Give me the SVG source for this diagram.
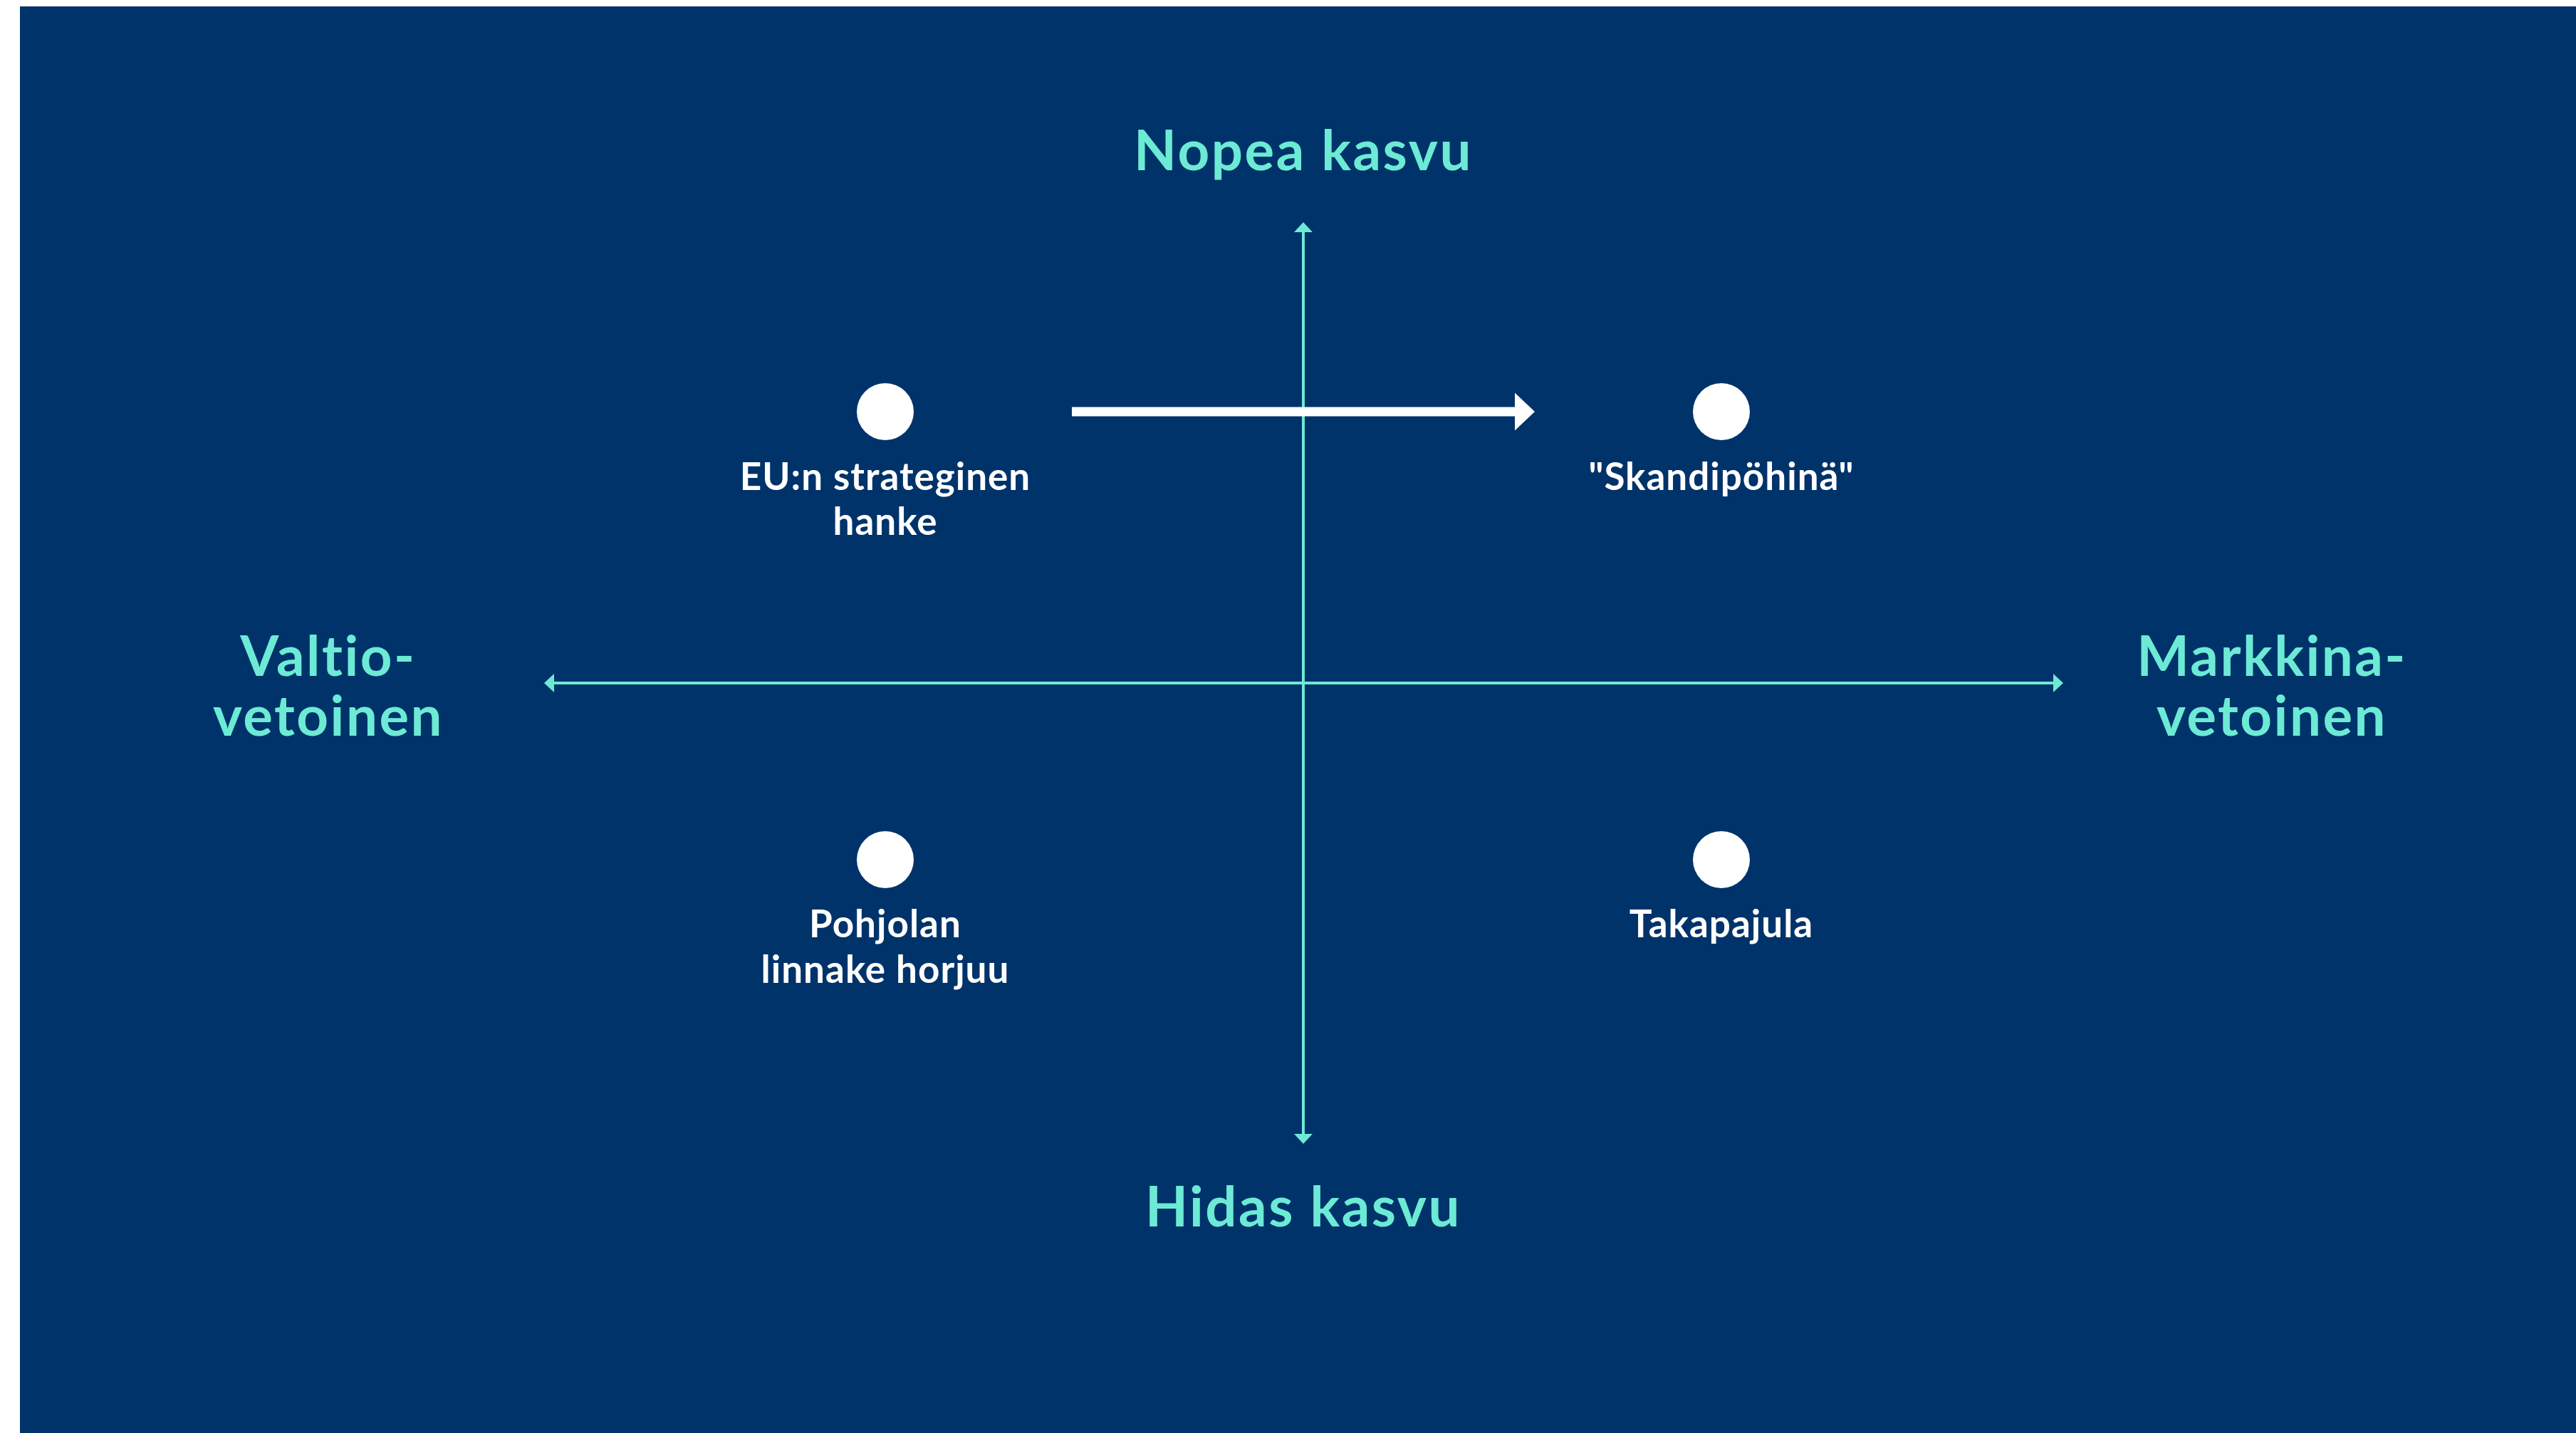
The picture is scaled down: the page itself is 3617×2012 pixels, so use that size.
<svg xmlns="http://www.w3.org/2000/svg" width="3617" height="2012" viewBox="0 0 3617 2012">
  <style>
    .axis { stroke: #6CEAD5; stroke-width: 4; fill: none; }
    .move { stroke: #FFFFFF; stroke-width: 13; fill: none; }
    .dot { fill: #FFFFFF; }
    text { font-family: "Lato", "Liberation Sans", sans-serif; text-anchor: middle; font-variant-ligatures: none; }
    .pole { fill: #6CEAD5; font-weight: 700; font-size: 78px; letter-spacing: 2.5px; }
    .label { fill: #FFFFFF; font-weight: 700; font-size: 53px; letter-spacing: 1px; }
  </style>
  <defs>
    <marker id="tealHead" viewBox="0 0 14 26" refX="0" refY="13" markerWidth="14" markerHeight="26" markerUnits="userSpaceOnUse" orient="auto-start-reverse">
      <path d="M0,0 L14,13 L0,26 Z" fill="#6CEAD5"/>
    </marker>
    <marker id="whiteHead" viewBox="0 0 28 53" refX="0" refY="26.5" markerWidth="28" markerHeight="53" markerUnits="userSpaceOnUse" orient="auto">
      <path d="M0,0 L28,26.5 L0,53 Z" fill="#FFFFFF"/>
    </marker>
  </defs>

  <!-- page and panel -->
  <rect x="0" y="0" width="3617" height="2012" fill="#FFFFFF"/>
  <rect x="28" y="9" width="3589" height="2003" fill="#00336A"/>

  <!-- axes and the shift arrow -->
  <g id="connectors">
    <line class="axis" x1="1830" y1="326" x2="1830" y2="1592" marker-start="url(#tealHead)" marker-end="url(#tealHead)"/>
    <line class="axis" x1="778" y1="959" x2="2883" y2="959" marker-start="url(#tealHead)" marker-end="url(#tealHead)"/>
    <line class="move" x1="1505" y1="578" x2="2127" y2="578" marker-end="url(#whiteHead)"/>
  </g>

  <!-- axis pole labels -->
  <g id="pole-top"><text class="pole" x="1830" y="239">Nopea kasvu</text></g>
  <g id="pole-bottom"><text class="pole" x="1830" y="1722">Hidas kasvu</text></g>
  <g id="pole-left">
    <text class="pole" x="461" y="949">Valtio-</text>
    <text class="pole" x="461" y="1033">vetoinen</text>
  </g>
  <g id="pole-right">
    <text class="pole" x="3190" y="949">Markkina-</text>
    <text class="pole" x="3190" y="1033">vetoinen</text>
  </g>

  <!-- scenario nodes -->
  <g id="node-eu">
    <circle class="dot" cx="1243" cy="578" r="40"/>
    <text class="label" x="1243" y="688">EU:n strateginen</text>
    <text class="label" x="1243" y="751">hanke</text>
  </g>
  <g id="node-skandi">
    <circle class="dot" cx="2417" cy="578" r="40"/>
    <text class="label" x="2417" y="688">"Skandipöhinä"</text>
  </g>
  <g id="node-pohjola">
    <circle class="dot" cx="1243" cy="1207" r="40"/>
    <text class="label" x="1243" y="1316">Pohjolan</text>
    <text class="label" x="1243" y="1380">linnake horjuu</text>
  </g>
  <g id="node-takapajula">
    <circle class="dot" cx="2417" cy="1207" r="40"/>
    <text class="label" x="2417" y="1316">Takapajula</text>
  </g>
</svg>
